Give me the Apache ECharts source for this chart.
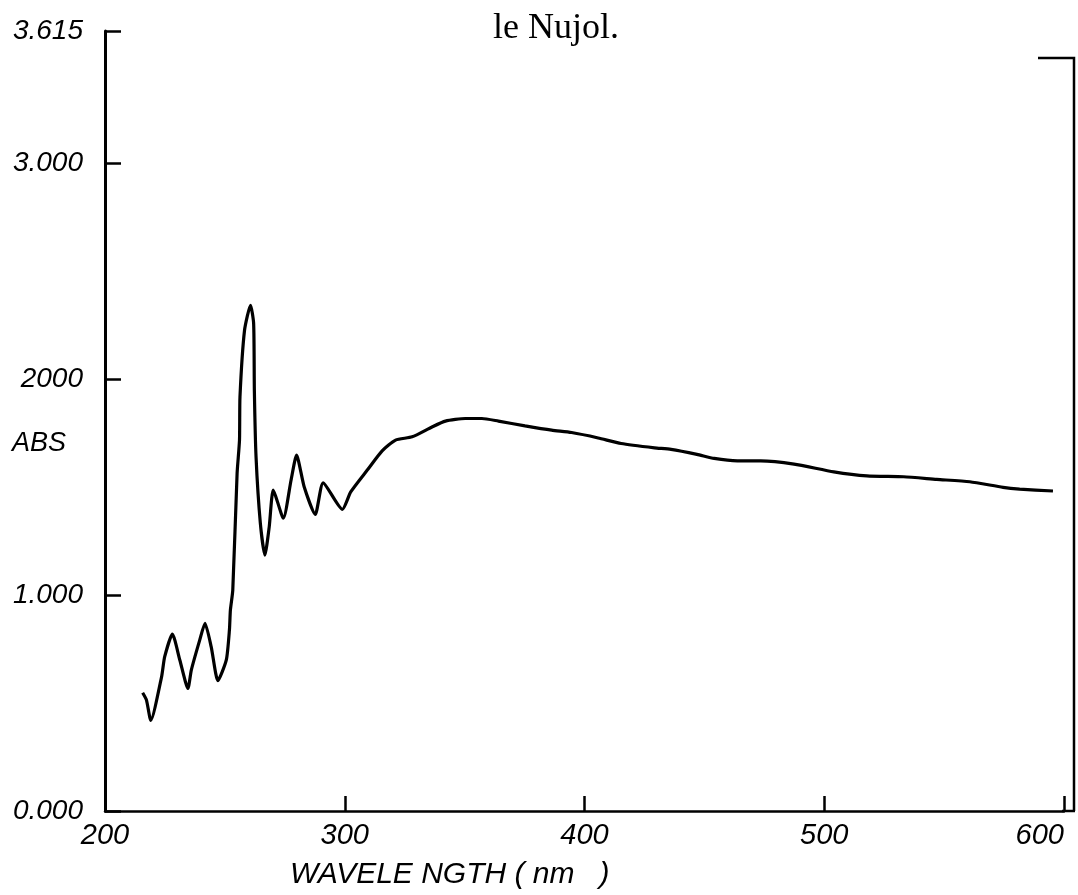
<!DOCTYPE html>
<html>
<head>
<meta charset="utf-8">
<title>le Nujol.</title>
<script src="https://cdn.jsdelivr.net/npm/echarts@6/dist/echarts.min.js"></script>
<style>
  html, body { margin: 0; padding: 0; background: #fff; }
  #chart { width: 1078px; height: 895px; }
</style>
</head>
<body>
<div id="chart"></div>
<script>
// Absorbance spectrum in Nujol: wavelength (nm) against absorbance.
const wavelength = [
  215.7, 217.3, 219.1, 223.6, 224.9, 228.1, 231.2, 234.6, 236.0, 239.5,
  241.7, 244.3, 247.1, 250.6, 251.9, 252.3, 253.3, 255.1, 256.1, 256.3,
  258.2, 260.7, 262.0, 262.3, 263.0, 264.8, 266.7, 268.5, 270.2, 274.4,
  277.6, 279.9, 283.1, 287.7, 291.0, 299.0, 302.5, 309.4, 315.6, 321.2,
  328.1, 336.4, 342.0, 350.3, 357.2, 364.1, 375.2, 386.3, 394.6, 405.7,
  415.3, 429.2, 436.1, 446.9, 454.1, 463.8, 473.5, 487.4, 504.0, 517.8,
  533.1, 546.9, 560.7, 574.6, 581.5, 595.4
];
const absorbance = [
  0.548, 0.514, 0.420, 0.622, 0.715, 0.820, 0.700, 0.568, 0.653, 0.792,
  0.870, 0.761, 0.604, 0.700, 0.839, 0.931, 1.024, 1.565, 1.719, 1.919,
  2.228, 2.344, 2.259, 1.950, 1.641, 1.333, 1.186, 1.317, 1.487, 1.357,
  1.533, 1.649, 1.502, 1.375, 1.521, 1.398, 1.479, 1.580, 1.669, 1.719,
  1.734, 1.780, 1.807, 1.819, 1.819, 1.807, 1.785, 1.765, 1.754, 1.729,
  1.703, 1.683, 1.676, 1.653, 1.634, 1.623, 1.623, 1.608, 1.572, 1.553,
  1.549, 1.537, 1.526, 1.500, 1.492, 1.483
];

// Axis ticks and their printed labels
const xTickValues = [200, 300, 400, 500, 600];
const xTickLabels = ['200', '300', '400', '500', '600'];
const yTickValues = [0, 1, 2, 3, 3.615];
const yTickLabels = ['0.000', '1.000', '2000', '3.000', '3.615'];

const chartTitle = 'le Nujol.';
const xAxisTitle = 'WAVELE NGTH ( nm   )';
const yAxisTitle = 'ABS';

const points = wavelength.map((w, i) => [w, absorbance[i]]);
const labelFont = 'Liberation Sans, Arial, sans-serif';

const chart = echarts.init(document.getElementById('chart'), null, { renderer: 'canvas' });

chart.setOption({
  backgroundColor: '#ffffff',
  animation: false,
  title: [
    {
      text: chartTitle, left: 488, top: 6,
      textStyle: { fontFamily: 'Liberation Serif, Times New Roman, serif', fontSize: 36, fontWeight: 'normal', color: '#000' }
    },
    {
      text: xAxisTitle, left: 285, top: 855,
      textStyle: { fontFamily: labelFont, fontStyle: 'italic', fontSize: 30, fontWeight: 'normal', color: '#000' }
    },
    {
      text: yAxisTitle, left: 7, top: 425,
      textStyle: { fontFamily: labelFont, fontStyle: 'italic', fontSize: 27, fontWeight: 'normal', color: '#000' }
    }
  ],
  grid: { left: 105, right: 14, top: 31, bottom: 84, containLabel: false, outerBoundsMode: 'none' },
  xAxis: {
    type: 'value',
    min: 200,
    max: 600,
    interval: 100,
    splitLine: { show: false },
    axisLine: { show: true, lineStyle: { color: '#000', width: 2.5 } },
    axisTick: { show: true, inside: true, length: 15, lineStyle: { color: '#000', width: 2.5 } },
    axisLabel: {
      show: true,
      margin: 10,
      alignMaxLabel: 'right',
      fontFamily: labelFont, fontStyle: 'italic', fontSize: 29, color: '#000',
      formatter: v => {
        const i = xTickValues.indexOf(Math.round(v));
        return i >= 0 ? xTickLabels[i] : '';
      }
    }
  },
  yAxis: {
    type: 'value',
    min: 0,
    max: 3.615,
    splitLine: { show: false },
    axisLine: { show: true, lineStyle: { color: '#000', width: 3 } },
    axisTick: {
      show: true, inside: true, length: 16,
      customValues: yTickValues,
      lineStyle: { color: '#000', width: 2.5 }
    },
    axisLabel: {
      show: true,
      margin: 22,
      customValues: yTickValues,
      fontFamily: labelFont, fontStyle: 'italic', fontSize: 28, color: '#000',
      formatter: v => {
        let best = 0;
        yTickValues.forEach((t, i) => { if (Math.abs(t - v) < Math.abs(yTickValues[best] - v)) best = i; });
        return yTickLabels[best];
      }
    }
  },
  graphic: [
    {
      // right-hand frame edge with its short top stub
      type: 'polyline',
      silent: true,
      shape: { points: [[1038, 58], [1074, 58], [1074, 811]] },
      style: { stroke: '#000', lineWidth: 2.5, fill: null }
    },
    {
      // bottom frame continues to the right-hand edge
      type: 'line',
      silent: true,
      shape: { x1: 1062, y1: 811, x2: 1075, y2: 811 },
      style: { stroke: '#000', lineWidth: 2.5 }
    }
  ],
  series: [
    {
      type: 'line',
      data: points,
      showSymbol: false,
      smooth: 0.2,
      clip: false,
      lineStyle: { color: '#000', width: 3.2 }
    }
  ]
});
</script>
</body>
</html>
